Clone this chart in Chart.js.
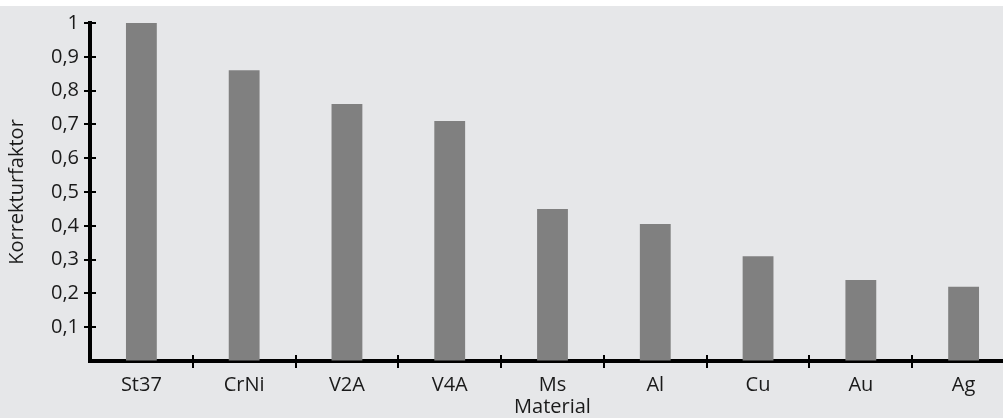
<!DOCTYPE html>
<html lang="de">
<head>
<meta charset="utf-8">
<title>Korrekturfaktor</title>
<script src="https://cdn.jsdelivr.net/npm/chart.js@4/dist/chart.umd.min.js"></script>
<style>
  html, body {
    margin: 0;
    padding: 0;
    background: #ffffff;
    overflow: hidden;
  }
  #wrap {
    position: absolute;
    top: 6px;
    left: 0;
    width: 1015px;
    height: 412px;
    background: #e6e7e9;
  }
</style>
</head>
<body>
<div id="wrap">
  <canvas id="myChart" width="1015" height="412"></canvas>
</div>
<script>
'use strict';

// ******** DATA **********

let materials = ['St37', 'CrNi', 'V2A', 'V4A', 'Ms', 'Al', 'Cu', 'Au', 'Ag'];
let faktoren = [1, 0.86, 0.76, 0.71, 0.45, 0.405, 0.31, 0.24, 0.22];
let yTickValues = [0, 0.1, 0.2, 0.3, 0.4, 0.5, 0.6, 0.7, 0.8, 0.9, 1];
let yTickLabels = ['', '0,1', '0,2', '0,3', '0,4', '0,5', '0,6', '0,7', '0,8', '0,9', '1'];

let fontFamily = '"Open Sans", "Noto Sans", sans-serif';
let textColor = '#1a1a1a';

// ********** CROSSING TICK MARKS *************

let crossTicks = {
  id: 'crossTicks',
  afterDraw(chart) {
    let ctx = chart.ctx;
    let x = chart.scales.x;
    let y = chart.scales.y;
    let area = chart.chartArea;

    ctx.save();
    ctx.strokeStyle = '#000000';
    ctx.lineWidth = 2;
    ctx.beginPath();

    for (let i = 1; i < yTickValues.length; i++) {
      let py = Math.round(y.getPixelForValue(yTickValues[i]));
      ctx.moveTo(area.left - 6, py);
      ctx.lineTo(area.left + 6, py);
    }

    for (let i = 0; i < materials.length - 1; i++) {
      let px = Math.round((x.getPixelForValue(i) + x.getPixelForValue(i + 1)) / 2);
      ctx.moveTo(px, area.bottom - 6);
      ctx.lineTo(px, area.bottom + 7);
    }

    ctx.stroke();
    ctx.restore();
  }
};

// ********** CHART *************

let ctx = document.getElementById('myChart').getContext('2d');

let myChartObj = {
  type: 'bar',
  data: {
    labels: materials,
    datasets: [{
      label: 'Korrekturfaktor',
      data: faktoren,
      backgroundColor: '#808080',
      borderWidth: 0,
      barPercentage: 0.3,
      categoryPercentage: 1
    }]
  },
  options: {
    responsive: false,
    devicePixelRatio: 1,
    animation: false,
    layout: {
      padding: { top: 17, right: 0, bottom: 0, left: 0 }
    },
    plugins: {
      legend: { display: false },
      tooltip: { enabled: false }
    },
    scales: {
      x: {
        afterFit(scale) {
          scale.height = 57;
          scale.paddingLeft = 0;
          scale.paddingRight = 0;
        },
        grid: {
          display: true,
          drawOnChartArea: false,
          drawTicks: false,
          color: 'rgba(0,0,0,0)'
        },
        border: {
          display: true,
          color: '#000000',
          width: 4
        },
        ticks: {
          padding: 12,
          color: textColor,
          font: { family: fontFamily, size: 20 },
          maxRotation: 0
        },
        title: {
          display: true,
          text: 'Material',
          color: textColor,
          font: { family: fontFamily, size: 20 },
          padding: { top: 0, bottom: -1 }
        }
      },
      y: {
        min: 0,
        max: 1,
        afterFit(scale) {
          scale.width = 90;
          scale.paddingTop = 0;
          scale.paddingBottom = 0;
        },
        afterBuildTicks(scale) {
          scale.ticks = yTickValues.map(v => ({ value: v }));
        },
        grid: {
          display: true,
          drawOnChartArea: false,
          drawTicks: false,
          color: 'rgba(0,0,0,0)'
        },
        border: {
          display: true,
          color: '#000000',
          width: 4
        },
        ticks: {
          padding: 11,
          color: textColor,
          font: { family: fontFamily, size: 20 },
          callback: function (value, index) {
            return yTickLabels[index];
          }
        },
        title: {
          display: true,
          text: 'Korrekturfaktor',
          color: textColor,
          font: { family: fontFamily, size: 20 },
          padding: { top: 5, bottom: 0 }
        }
      }
    }
  },
  plugins: [crossTicks]
};

new Chart(ctx, myChartObj);
</script>
</body>
</html>
